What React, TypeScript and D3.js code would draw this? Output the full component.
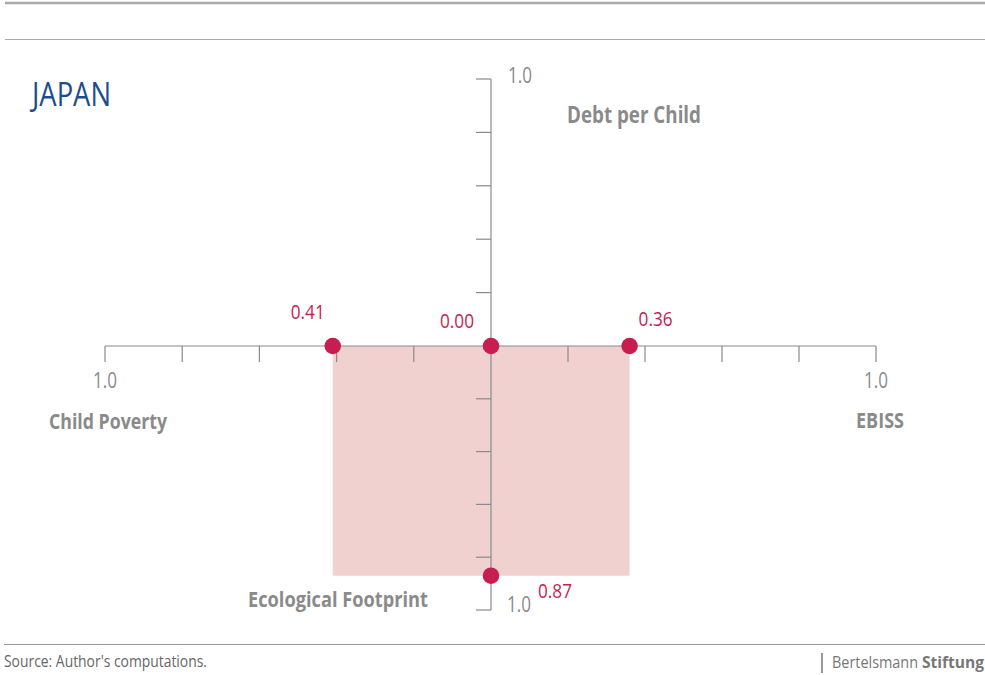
import * as React from 'react';
import * as d3 from 'd3';

const W = 985;
const H = 675;

const country = 'JAPAN';
// four half-axes, clockwise from the top
const axisNames = ['Debt per Child', 'EBISS', 'Ecological Footprint', 'Child Poverty'];
const axisValues = [0.0, 0.36, 0.87, 0.41];
const ticks = d3.range(0.2, 1.0001, 0.2);
const endLabel = '1.0';
const sourceText = "Source: Author's computations.";

const FONT = '"Open Sans", "Noto Sans", sans-serif';
const GREY = '#8a8a8a';
const RED = '#c81d50';
const FILL = '#f1d1cf';

const cx = 491;
const cy = 346;
const xRight = d3.scaleLinear().domain([0, 1]).range([cx, 876]);
const xLeft = d3.scaleLinear().domain([0, 1]).range([cx, 105]);
const yUp = d3.scaleLinear().domain([0, 1]).range([cy, 79]);
const yDown = d3.scaleLinear().domain([0, 1]).range([cy, 610]);
const fmt = d3.format('.2f');

// condensed look: squeeze the text to the width the original uses
const T = (p: any) => {
  const {len, children, ...rest} = p;
  return <text textLength={len} lengthAdjust="spacingAndGlyphs" {...rest}>{children}</text>;
};

export default function App() {
  const [up, right, down, left] = axisValues;
  const pts = [
    {x: cx, y: yUp(up), v: up, dx: -17, dy: -18, anchor: 'end'},
    {x: xRight(right), y: cy, v: right, dx: 9, dy: -20, anchor: 'start'},
    {x: cx, y: yDown(down), v: down, dx: 47, dy: 22, anchor: 'start'},
    {x: xLeft(left), y: cy, v: left, dx: -25, dy: -27, anchor: 'middle'},
  ];
  return (
    <svg width={W} height={H} style={{position: 'absolute', left: 0, top: 0, fontFamily: FONT}}>
      <rect width={W} height={H} fill="#fff" />
      <line x1={5} x2={W} y1={3} y2={3} stroke="#aaa" strokeWidth={2.5} />
      <line x1={5} x2={W} y1={39.5} y2={39.5} stroke="#aaa" strokeWidth={1.2} />
      <T x={32} y={106} len={79} fontSize={33} fill="#1c4d8e">{country}</T>

      {/* shaded area */}
      <rect x={xLeft(left)} y={yUp(up)} width={xRight(right) - xLeft(left)}
        height={yDown(down) - yUp(up)} fill={FILL} />

      {/* horizontal axis */}
      <line x1={xLeft(1)} x2={xRight(1)} y1={cy} y2={cy} stroke={GREY} strokeWidth={1.2} />
      {ticks.map(t => (
        <g key={'h' + t}>
          <line x1={xLeft(t)} x2={xLeft(t)} y1={cy} y2={cy + 16} stroke={GREY} strokeWidth={1.2} />
          <line x1={xRight(t)} x2={xRight(t)} y1={cy} y2={cy + 16} stroke={GREY} strokeWidth={1.2} />
        </g>
      ))}
      {/* vertical axis */}
      <line x1={cx} x2={cx} y1={yUp(1)} y2={yDown(1)} stroke={GREY} strokeWidth={1.2} />
      {ticks.map(t => (
        <g key={'v' + t}>
          <line x1={cx - 15} x2={cx} y1={yUp(t)} y2={yUp(t)} stroke={GREY} strokeWidth={1.2} />
          <line x1={cx - 15} x2={cx} y1={yDown(t)} y2={yDown(t)} stroke={GREY} strokeWidth={1.2} />
        </g>
      ))}

      {/* end labels */}
      <g fontSize={21} fill={GREY}>
        <T x={cx + 17} y={yUp(1) + 4} len={24}>{endLabel}</T>
        <T x={cx + 16} y={yDown(1) + 2} len={24}>{endLabel}</T>
        <T x={xLeft(1) - 12} y={cy + 42} len={24}>{endLabel}</T>
        <T x={xRight(1) - 12} y={cy + 42} len={24}>{endLabel}</T>
      </g>

      {/* axis titles */}
      <g fontSize={22} fontWeight="bold" fill={GREY}>
        <T x={567} y={yUp(1) + 44} len={134} fontSize={23}>{axisNames[0]}</T>
        <T x={856} y={cy + 82} len={48}>{axisNames[1]}</T>
        <T x={248} y={yDown(1) - 3} len={180}>{axisNames[2]}</T>
        <T x={49} y={cy + 83} len={118}>{axisNames[3]}</T>
      </g>

      {/* points */}
      {pts.map((p, i) => (
        <g key={'p' + i}>
          <circle cx={p.x} cy={p.y} r={8.3} fill={RED} />
          <T x={p.x + p.dx} y={p.y + p.dy} len={34} textAnchor={p.anchor} fontSize={20} fill={RED}>{fmt(p.v)}</T>
        </g>
      ))}

      {/* footer */}
      <line x1={4} x2={W} y1={644.5} y2={644.5} stroke="#999" strokeWidth={1.2} />
      <T x={4} y={666.5} len={203} fontSize={16} fill="#666">{sourceText}</T>
      <line x1={822} x2={822} y1={653} y2={673} stroke="#777" strokeWidth={1.5} />
      <T x={832} y={667.5} len={86} fontSize={16} fill="#777">Bertelsmann</T>
      <T x={922} y={667.5} len={62} fontSize={16} fontWeight="bold" fill="#777">Stiftung</T>
    </svg>
  );
}
